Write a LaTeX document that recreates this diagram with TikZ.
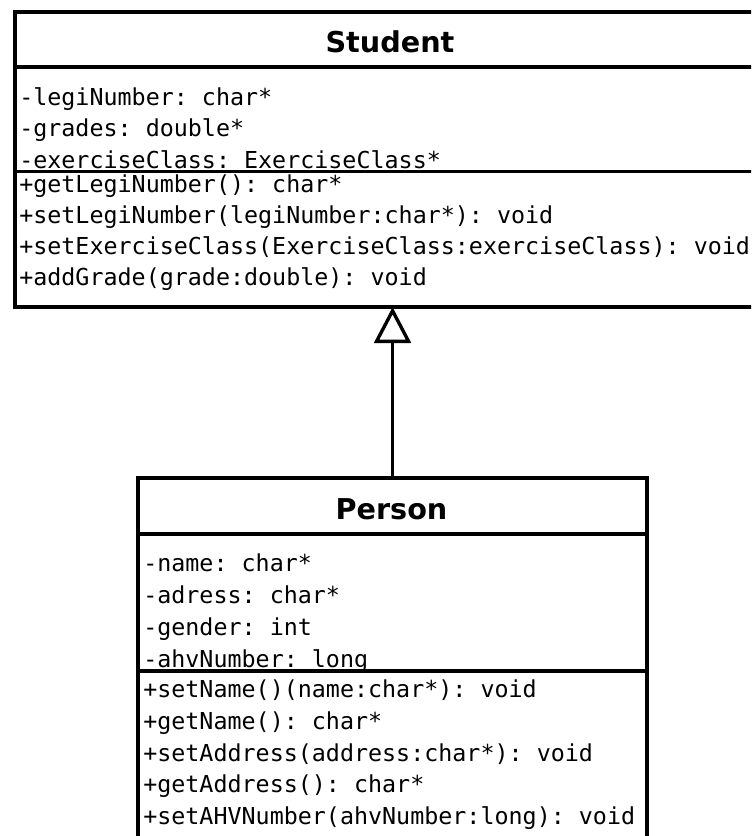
\documentclass[tikz,border=0pt]{standalone}
\usepackage{fontspec}
\setsansfont{DejaVu Sans}
\setmonofont{DejaVu Sans Mono}
\usetikzlibrary{arrows.meta}

\begin{document}
\begin{tikzpicture}[x=0.025cm,y=-0.025cm,
    classbox/.style={draw,line width=2.5pt,inner sep=0pt,outer sep=0pt,anchor=north west},
    classname/.style={font=\sffamily\bfseries\fontsize{20.4}{24}\selectfont,inner sep=0pt,anchor=base},
    member/.style={font=\ttfamily\fontsize{16.6}{20}\selectfont,inner sep=0pt,anchor=base west},
    sep/.style={line width=2.5pt},
    inherit/.style={line width=2.4pt,-{Triangle[open,length=0.9cm,width=0.92cm]}}]
  \clip (0,0) rectangle (751,836);
  \fill[white] (0,0) rectangle (751,836);
  % Student
  \node[classbox,minimum width=18.75cm,minimum height=7.375cm] (student) at (15,12) {};
  \node[classname] (student-name) at (390,52) {Student};
  \foreach \y/\txt [count=\i] in {105/{-legiNumber: char*},136.5/{-grades: double*},168/{-exerciseClass: ExerciseClass*}}
    \node[member] (sa-\i) at (19,\y) {\txt};
  \foreach \y/\txt [count=\i] in {192/{+getLegiNumber(): char*},223/{+setLegiNumber(legiNumber:char*): void},254/{+setExerciseClass(ExerciseClass:exerciseClass): void},285/{+addGrade(grade:double): void}}
    \node[member] (sm-\i) at (19,\y) {\txt};
  \draw[sep] (student.west |- 0,67) -- (student.east |- 0,67);
  \draw[sep] (student.west |- 0,171.5) -- (student.east |- 0,171.5);
  % Person
  \node[classbox,minimum width=12.725cm,minimum height=9.275cm] (person) at (138,478) {};
  \node[classname] (person-name) at (391.5,519) {Person};
  \foreach \y/\txt [count=\i] in {571/{-name: char*},603/{-adress: char*},635/{-gender: int},667/{-ahvNumber: long}}
    \node[member] (pa-\i) at (143,\y) {\txt};
  \foreach \y/\txt [count=\i] in {697/{+setName()(name:char*): void},729/{+getName(): char*},761/{+setAddress(address:char*): void},792/{+getAddress(): char*},824/{+setAHVNumber(ahvNumber:long): void}}
    \node[member] (pm-\i) at (143,\y) {\txt};
  \draw[sep] (person.west |- 0,534) -- (person.east |- 0,534);
  \draw[sep] (person.west |- 0,671) -- (person.east |- 0,671);
  \draw[inherit] (person.north) -- (person.north |- student.south);
\end{tikzpicture}
\end{document}
